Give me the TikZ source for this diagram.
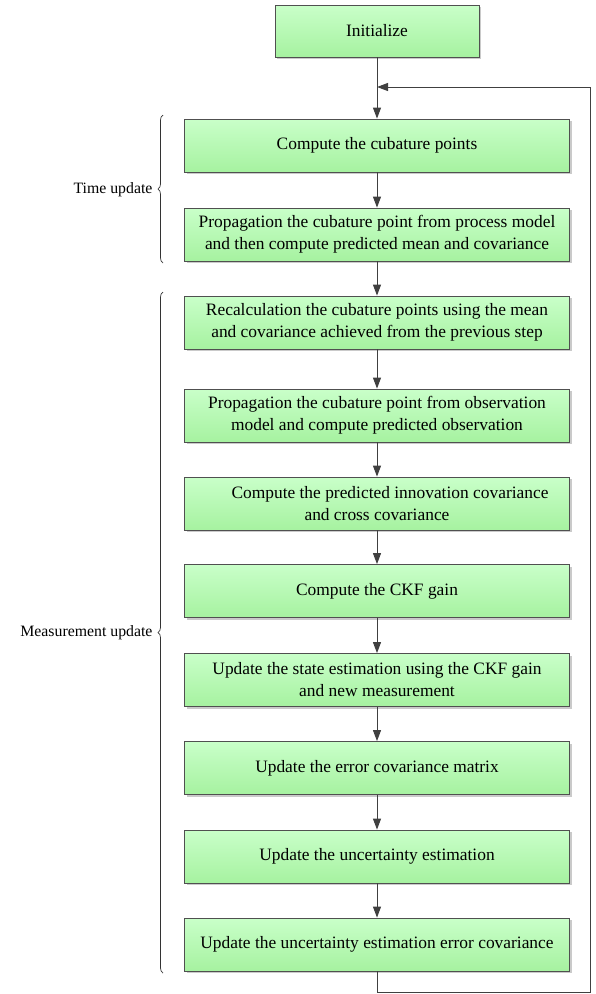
\documentclass[tikz,border=0pt]{standalone}
\usepackage{fontspec}
\setmainfont{Liberation Serif}
\usetikzlibrary{arrows.meta,shadows,decorations.pathreplacing}
\definecolor{boxtop}{HTML}{C9FFC9}
\definecolor{boxbot}{HTML}{A6F2A0}
\definecolor{edge}{HTML}{505050}
\definecolor{arrowc}{HTML}{404040}
\begin{document}
\begin{tikzpicture}[x=1pt,y=-1pt,
  every node/.style={font=\fontsize{15.8}{21}\selectfont},
  stepbox/.style={draw=edge, line width=0.8pt, top color=boxtop, bottom color=boxbot,
    minimum width=385pt, minimum height=53pt, align=center, inner sep=2pt,
    font=\fontsize{17.4}{22}\selectfont,
    drop shadow={shadow xshift=2pt, shadow yshift=-2pt, fill=black!35, opacity=0.6}},
  arr/.style={draw=arrowc, line width=1pt, -{Triangle[length=11pt,width=8pt]}},
  brc/.style={draw=black!80, line width=0.7pt, decorate, decoration={brace, amplitude=5pt}}
]
\useasboundingbox (0,0) rectangle (595,994);
\node[stepbox, minimum width=204pt, minimum height=52pt] (init) at (377,31) {Initialize};
\node[stepbox] (b1) at (377,145.5) {Compute the cubature points};
\node[stepbox] (b2) at (377,234.5) {Propagation the cubature point from process model\\and then compute predicted mean and covariance};
\node[stepbox] (b3) at (377,322.5) {Recalculation the cubature points using the mean\\and covariance achieved from the previous step};
\node[stepbox] (b4) at (377,415.5) {Propagation the cubature point from observation\\model and compute predicted observation};
\node[stepbox] (b5) at (377,503.5) {\hspace*{26pt}Compute the predicted innovation covariance\\and cross covariance};
\node[stepbox] (b6) at (377,591) {Compute the CKF gain};
\node[stepbox] (b7) at (377,680) {Update the state estimation using the CKF gain\\and new measurement};
\node[stepbox] (b8) at (377,768) {Update the error covariance matrix};
\node[stepbox] (b9) at (377,856.5) {Update the uncertainty estimation};
\node[stepbox] (b10) at (377,944.5) {Update the uncertainty estimation error covariance};

\draw[arr] (init) -- (b1);
\draw[arr] (b1) -- (b2);
\draw[arr] (b2) -- (b3);
\draw[arr] (b3) -- (b4);
\draw[arr] (b4) -- (b5);
\draw[arr] (b5) -- (b6);
\draw[arr] (b6) -- (b7);
\draw[arr] (b7) -- (b8);
\draw[arr] (b8) -- (b9);
\draw[arr] (b9) -- (b10);

\coordinate (lb) at (590,992);
\coordinate (lt) at (590,87);
\coordinate (m) at (377,87);
\draw[arr] (b10.south) |- (lb) -- (lt) -- (m);

\coordinate (t1) at (163,263);
\coordinate (t2) at (163,115);
\draw[brc] (t1) -- (t2);
\node[anchor=east] (tu) at (156,190) {Time update};
\coordinate (m1) at (163,973);
\coordinate (m2) at (163,292);
\draw[brc] (m1) -- (m2);
\node[anchor=east] (mu) at (156,632.5) {Measurement update};
\end{tikzpicture}
\end{document}
